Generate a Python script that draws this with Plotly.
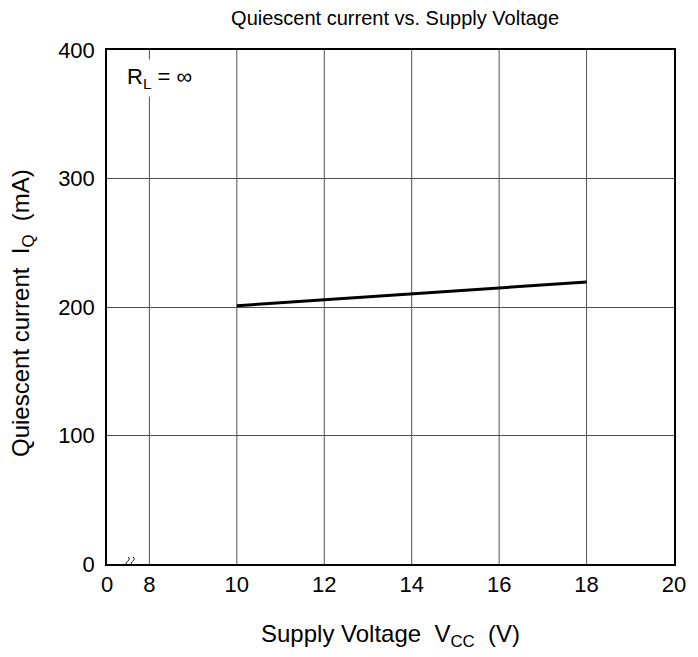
import plotly.graph_objects as go

# Data
vcc = [10, 12, 14, 16, 18]
iq = [201, 205.5, 210, 214.5, 219.5]
x_tickvals = [7.03, 8, 10, 12, 14, 16, 18, 20]
x_ticktext = ["0", "8", "10", "12", "14", "16", "18", "20"]
y_tickvals = [0, 100, 200, 300, 400]

FONT = "Liberation Sans, Arial, sans-serif"
NB = "\u00a0"

fig = go.Figure()
fig.add_trace(go.Scatter(x=vcc, y=iq, mode="lines",
                         line=dict(color="black", width=3), showlegend=False))

# vertical gridlines (from 8 upward only)
for v in [8, 10, 12, 14, 16, 18]:
    fig.add_shape(type="line", x0=v, x1=v, y0=0, y1=400, xref="x", yref="y",
                  line=dict(color="#505050", width=1), layer="below")

# axis break symbol
for dx in [-2.5, 2.5]:
    fig.add_shape(type="path", xref="x", yref="y", xsizemode="pixel", ysizemode="pixel",
                  xanchor=7.54, yanchor=0,
                  path=(f"M {dx-1.5} -7 C {dx-5} -3, {dx+3} -2, {dx} 0 "
                        f"C {dx-3} 2, {dx+5} 3, {dx+1.5} 7"),
                  line=dict(color="black", width=1))

fig.update_layout(
    width=690, height=649,
    margin=dict(l=99, r=16, t=42, b=93),
    plot_bgcolor="white", paper_bgcolor="white",
    font=dict(family=FONT, size=22, color="black"),
    title=dict(text="Quiescent current vs. Supply Voltage", x=0.561, xanchor="center",
               xref="container", y=0.985, yanchor="middle", yref="container",
               font=dict(size=20)),
    xaxis=dict(range=[7.03, 20], tickmode="array", tickvals=x_tickvals, ticktext=x_ticktext,
               showgrid=False, zeroline=False, showline=True, mirror=True,
               linecolor="black", linewidth=1.5, ticks=""),
    yaxis=dict(range=[0, 400], tickmode="array", tickvals=y_tickvals,
               showgrid=True, gridcolor="#505050", gridwidth=1, zeroline=False,
               showline=True, mirror=True, linecolor="black", linewidth=1.5, ticks="",
               ticklabelstandoff=6),
    annotations=[
        dict(text=f"R<sub>L</sub> = ∞", x=0.027, y=0.945, xref="paper", yref="paper",
             xanchor="left", yanchor="middle", showarrow=False, bgcolor="white",
             borderpad=4, font=dict(size=22)),
        dict(text=f"Supply Voltage{NB}{NB}V<sub>CC</sub>{NB}{NB}(V)", x=0.5, y=0,
             xref="paper", yref="paper", xanchor="center", yanchor="middle",
             yshift=-71, showarrow=False, font=dict(size=24)),
        dict(text=f"Quiescent current{NB}{NB}I<sub>Q</sub>{NB}{NB}(mA)", x=0, y=0.5,
             xref="paper", yref="paper", xanchor="center", yanchor="middle",
             xshift=-85, yshift=-6, textangle=-90, showarrow=False, font=dict(size=24)),
    ],
)

fig.write_html("out.html")
